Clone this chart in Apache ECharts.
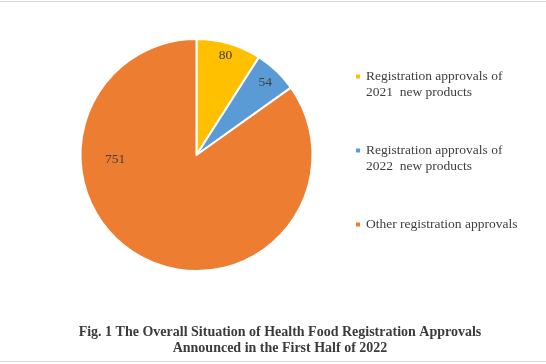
<!DOCTYPE html>
<html>
<head>
<meta charset="utf-8">
<script src="https://cdn.jsdelivr.net/npm/echarts@6/dist/echarts.min.js"></script>
<style>html,body{margin:0;padding:0;background:#fff}#c{width:546px;height:364px}</style>
</head>
<body>
<div id="c"></div>
<script>
const categories = [
  'Registration approvals of\n2021  new products',
  'Registration approvals of\n2022  new products',
  'Other registration approvals'
];
const values = [80, 54, 751];
const colors = ['#FFC000', '#5B9BD5', '#ED7D31'];
const titleText = 'Fig. 1 The Overall Situation of Health Food Registration Approvals\nAnnounced in the First Half of 2022';

const CX = 196.5, CY = 155, R = 116;
const labelRadius = [0.89, 0.86, 0.703];
const labelAngleOverride = [null, null, 267];

const total = values.reduce((a, b) => a + b, 0);
function midAngle(i) {
  let s = 0;
  for (let k = 0; k < i; k++) s += values[k];
  return (s + values[i] / 2) / total * 360;
}

const chart = echarts.init(document.getElementById('c'), null, {renderer: 'canvas'});
chart.setOption({
  backgroundColor: '#fff',
  animation: false,
  title: {
    text: titleText,
    left: 275,
    top: 319,
    textAlign: 'center',
    textStyle: {
      fontFamily: 'Liberation Serif',
      fontWeight: 'bold',
      fontSize: 14,
      lineHeight: 16,
      color: '#3b3b3b'
    }
  },
  legend: {
    orient: 'vertical',
    left: 349,
    top: 47.5,
    itemWidth: 6,
    itemHeight: 6,
    itemGap: 26,
    icon: 'rect',
    selectedMode: false,
    formatter: function (name) {
      return name.indexOf('\n') >= 0 ? '\n' + name : '\n' + name + '\n';
    },
    textStyle: {
      fontFamily: 'Liberation Serif',
      fontSize: 13.5,
      lineHeight: 16,
      color: '#404040'
    },
    data: categories
  },
  graphic: [
    {type: 'line', shape: {x1: 0, y1: 1.5, x2: 546, y2: 1.5}, style: {stroke: '#d9d9d9', lineWidth: 1}},
    {type: 'line', shape: {x1: 0, y1: 361.5, x2: 546, y2: 361.5}, style: {stroke: '#d9d9d9', lineWidth: 1}}
  ],
  series: [{
    type: 'pie',
    center: [CX, CY],
    radius: [0, R],
    startAngle: 90,
    clockwise: true,
    avoidLabelOverlap: false,
    itemStyle: {borderColor: '#fff', borderWidth: 2},
    label: {
      show: true,
      position: 'inside',
      formatter: '{c}',
      fontFamily: 'Liberation Serif',
      fontSize: 13.5,
      color: '#404040'
    },
    labelLine: {show: false},
    labelLayout: function (p) {
      const i = p.dataIndex;
      const a = (labelAngleOverride[i] != null ? labelAngleOverride[i] : midAngle(i)) * Math.PI / 180;
      const r = labelRadius[i] * R;
      return {
        x: CX + r * Math.sin(a),
        y: CY - r * Math.cos(a),
        align: 'center',
        verticalAlign: 'middle'
      };
    },
    emphasis: {disabled: true},
    data: categories.map((n, i) => ({name: n, value: values[i], itemStyle: {color: colors[i]}}))
  }]
});
</script>
</body>
</html>
